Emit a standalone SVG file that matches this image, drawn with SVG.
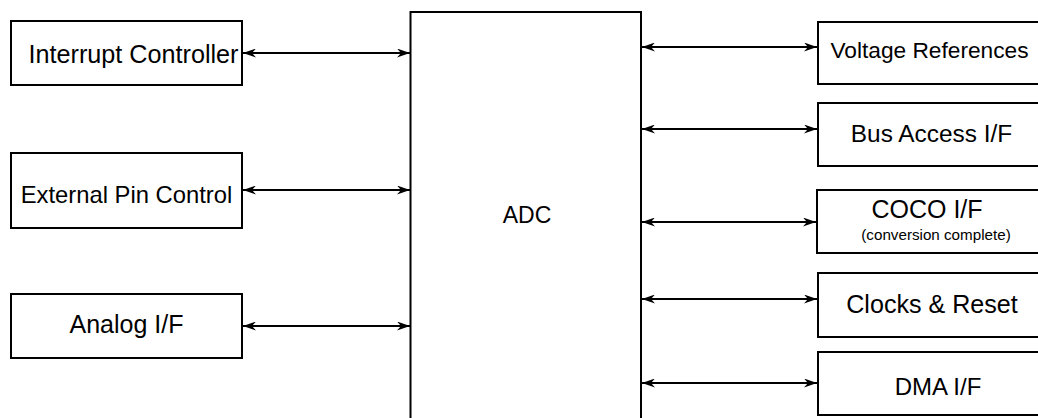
<svg xmlns="http://www.w3.org/2000/svg" width="1038" height="418" viewBox="0 0 1038 418">
<style>
.box{fill:#fff;stroke:#000;stroke-width:2}
.lbl{font-family:"Liberation Sans",Arial,Helvetica,sans-serif;fill:#000;text-anchor:middle}
.conn{stroke:#000;stroke-width:2;fill:none;marker-start:url(#ah);marker-end:url(#ah)}
</style>
<defs>
<marker id="ah" viewBox="0 0 13 9" refX="13" refY="4.5" markerWidth="13" markerHeight="9" markerUnits="userSpaceOnUse" orient="auto-start-reverse">
<path d="M0,0 L13,4.5 L0,9 L4,4.5 z" fill="#000"/>
</marker>
</defs>
<rect width="1038" height="418" fill="#fff"/>
<g id="adc">
<rect class="box" x="410.5" y="12" width="230.5" height="420"/>
<text class="lbl" x="527" y="223" font-size="23">ADC</text>
</g>
<g id="interrupt-controller">
<rect class="box" x="11" y="21" width="231" height="64"/>
<text class="lbl" x="133.5" y="63" font-size="25.2">Interrupt Controller</text>
</g>
<g id="external-pin-control">
<rect class="box" x="11" y="153" width="231" height="75"/>
<text class="lbl" x="126.5" y="203" font-size="23.8">External Pin Control</text>
</g>
<g id="analog-if">
<rect class="box" x="11" y="294" width="231" height="64"/>
<text class="lbl" x="126.5" y="333" font-size="25">Analog I/F</text>
</g>
<g id="voltage-references">
<rect class="box" x="818" y="22" width="230" height="62"/>
<text class="lbl" x="929.5" y="58" font-size="22.7">Voltage References</text>
</g>
<g id="bus-access-if">
<rect class="box" x="818" y="103" width="230" height="63"/>
<text class="lbl" x="931.5" y="142" font-size="24.4">Bus Access I/F</text>
</g>
<g id="coco-if">
<rect class="box" x="817" y="190" width="230" height="63"/>
<text class="lbl" x="927" y="218" font-size="25">COCO I/F</text>
<text class="lbl" x="936" y="240" font-size="15.2">(conversion complete)</text>
</g>
<g id="clocks-reset">
<rect class="box" x="818" y="273" width="230" height="64"/>
<text class="lbl" x="932" y="313" font-size="25.1">Clocks &amp; Reset</text>
</g>
<g id="dma-if">
<rect class="box" x="818" y="352" width="230" height="63"/>
<text class="lbl" x="938" y="395" font-size="24">DMA I/F</text>
</g>
<g id="connectors">
<line class="conn" x1="243" y1="53" x2="410" y2="53"/>
<line class="conn" x1="243" y1="190" x2="410" y2="190"/>
<line class="conn" x1="243" y1="326" x2="410" y2="326"/>
<line class="conn" x1="642" y1="47" x2="817" y2="47"/>
<line class="conn" x1="642" y1="129" x2="817" y2="129"/>
<line class="conn" x1="642" y1="222" x2="816" y2="222"/>
<line class="conn" x1="642" y1="299" x2="817" y2="299"/>
<line class="conn" x1="642" y1="383" x2="817" y2="383"/>
</g>
</svg>
